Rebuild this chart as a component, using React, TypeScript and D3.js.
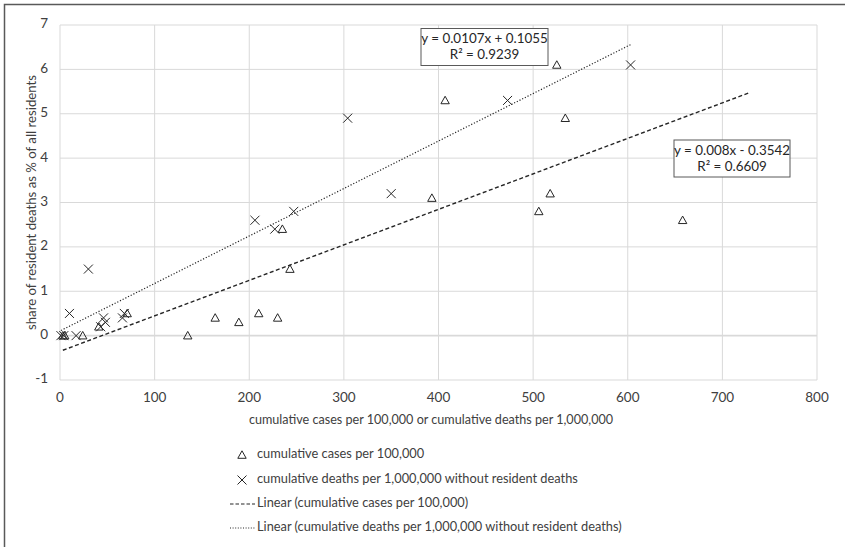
import React from "react";
import * as d3 from "d3";

// cumulative cases per 100,000 vs share of resident deaths
const casesX = [3, 5, 24, 41, 71, 135, 164, 189, 210, 230, 235, 243, 393, 407, 506, 518, 525, 534, 658];
const casesY = [0, 0, 0, 0.2, 0.5, 0, 0.4, 0.3, 0.5, 0.4, 2.4, 1.5, 3.1, 5.3, 2.8, 3.2, 6.1, 4.9, 2.6];

// cumulative deaths per 1,000,000 without resident deaths
const deathsX = [1, 4, 10, 17, 30, 43, 46, 48, 66, 68, 206, 227, 247, 304, 350, 473, 603];
const deathsY = [0, 0, 0.5, 0, 1.5, 0.2, 0.4, 0.3, 0.4, 0.5, 2.6, 2.4, 2.8, 4.9, 3.2, 5.3, 6.1];

const xTicks = [0, 100, 200, 300, 400, 500, 600, 700, 800];
const yTicks = [-1, 0, 1, 2, 3, 4, 5, 6, 7];

// trendline coefficients as printed on the chart
const casesFit = { slope: 0.008, intercept: -0.3542, forward: 70 };
const deathsFit = { slope: 0.0107, intercept: 0.1055, forward: 0 };
const casesEq = ["y = 0.008x - 0.3542", "R² = 0.6609"];
const deathsEq = ["y = 0.0107x + 0.1055", "R² = 0.9239"];

const legendLabels = [
  "cumulative cases per 100,000",
  "cumulative deaths per 1,000,000 without resident deaths",
  "Linear (cumulative cases per 100,000)",
  "Linear (cumulative deaths per 1,000,000 without resident deaths)",
];

const W = 845;
const H = 547;
const margin = { top: 25, right: 28, bottom: 167, left: 60 };
const font = "Lato, 'Open Sans', sans-serif";
const ink = "#262626";
const grid = "#d9d9d9";

const x = d3.scaleLinear().domain([0, 800]).range([margin.left, W - margin.right]);
const y = d3.scaleLinear().domain([-1, 7]).range([H - margin.bottom, margin.top]);

const Triangle = ({ cx, cy }: { cx: number; cy: number }) => (
  <path
    d={`M${cx},${cy - 4.2}L${cx + 4.2},${cy + 3.3}L${cx - 4.2},${cy + 3.3}Z`}
    fill="none"
    stroke={ink}
    strokeWidth={1}
  />
);

const Cross = ({ cx, cy }: { cx: number; cy: number }) => (
  <path
    d={`M${cx - 4.5},${cy - 4.5}L${cx + 4.5},${cy + 4.5}M${cx + 4.5},${cy - 4.5}L${cx - 4.5},${cy + 4.5}`}
    stroke={ink}
    strokeWidth={1}
  />
);

function fitLine(xs: number[], fit: { slope: number; intercept: number; forward: number }) {
  const x0 = d3.min(xs) as number;
  const x1 = (d3.max(xs) as number) + fit.forward;
  const line = d3
    .line<number>()
    .x((d) => x(d))
    .y((d) => y(fit.slope * d + fit.intercept));
  return line([x0, x1]) as string;
}

const EqBox = ({ lines, left, top, w }: { lines: string[]; left: number; top: number; w: number }) => (
  <g>
    <rect x={left} y={top} width={w} height={37} fill="#fff" stroke="#595959" strokeWidth={1} />
    {lines.map((t, i) => (
      <text
        key={i}
        x={left + w / 2}
        y={top + 11.5 + i * 16}
        textAnchor="middle"
        dominantBaseline="middle"
        fontSize={13.4}
        fill={ink}
      >
        {t}
      </text>
    ))}
  </g>
);

export default function App() {
  const legendY = [455, 480, 504, 528];
  return (
    <svg
      width={W}
      height={H}
      style={{ position: "absolute", left: 0, top: 0, background: "#fff" }}
      fontFamily={font}
    >
      <rect x={0} y={0} width={W} height={H} fill="#fff" />
      <path d={`M4.5,${H}V4.5H${W}`} fill="none" stroke="#595959" strokeWidth={1.5} />

      {/* grid */}
      {xTicks.map((t) => (
        <line key={"gx" + t} x1={x(t)} x2={x(t)} y1={y(7)} y2={y(-1)} stroke={grid} strokeWidth={1} />
      ))}
      {yTicks.map((t) => (
        <line
          key={"gy" + t}
          x1={x(0)}
          x2={x(800)}
          y1={y(t)}
          y2={y(t)}
          stroke={grid}
          strokeWidth={t === 0 ? 1.6 : 1}
        />
      ))}

      {/* tick labels */}
      {yTicks.map((t) => (
        <text key={"ty" + t} x={x(0) - 12} y={y(t)} textAnchor="end" dominantBaseline="middle" fontSize={13.5} fill="#404040">
          {t}
        </text>
      ))}
      {xTicks.map((t) => (
        <text key={"tx" + t} x={x(t)} y={399} textAnchor="middle" dominantBaseline="middle" fontSize={13.5} fill="#404040">
          {t}
        </text>
      ))}

      {/* axis titles */}
      <text x={431} y={421} textAnchor="middle" dominantBaseline="middle" fontSize={12.6} fill="#404040">
        cumulative cases per 100,000 or cumulative deaths per 1,000,000
      </text>
      <text
        transform={`translate(33,${(y(7) + y(-1)) / 2}) rotate(-90)`}
        textAnchor="middle"
        dominantBaseline="middle"
        fontSize={13.2}
        fill="#404040"
      >
        share of resident deaths as % of all residents
      </text>

      {/* trendlines */}
      <path d={fitLine(casesX, casesFit)} fill="none" stroke={ink} strokeWidth={1.4} strokeDasharray="4 2.5" />
      <path d={fitLine(deathsX, deathsFit)} fill="none" stroke={ink} strokeWidth={1.2} strokeDasharray="1.2 1.8" />

      {/* points */}
      {casesX.map((v, i) => (
        <Triangle key={"c" + i} cx={x(v)} cy={y(casesY[i])} />
      ))}
      {deathsX.map((v, i) => (
        <Cross key={"d" + i} cx={x(v)} cy={y(deathsY[i])} />
      ))}

      {/* trendline equations */}
      <EqBox lines={deathsEq} left={421} top={28.5} w={127} />
      <EqBox lines={casesEq} left={674} top={140} w={116} />

      {/* legend */}
      <Triangle cx={242} cy={legendY[0]} />
      <Cross cx={242} cy={legendY[1]} />
      <line x1={230} x2={255} y1={legendY[2]} y2={legendY[2]} stroke={ink} strokeWidth={1.2} strokeDasharray="3.5 2" />
      <line x1={230} x2={255} y1={legendY[3]} y2={legendY[3]} stroke={ink} strokeWidth={1.1} strokeDasharray="1 1.6" />
      {legendLabels.map((t, i) => (
        <text key={"l" + i} x={257} y={legendY[i]} dominantBaseline="middle" fontSize={12.8} fill="#404040">
          {t}
        </text>
      ))}
    </svg>
  );
}
